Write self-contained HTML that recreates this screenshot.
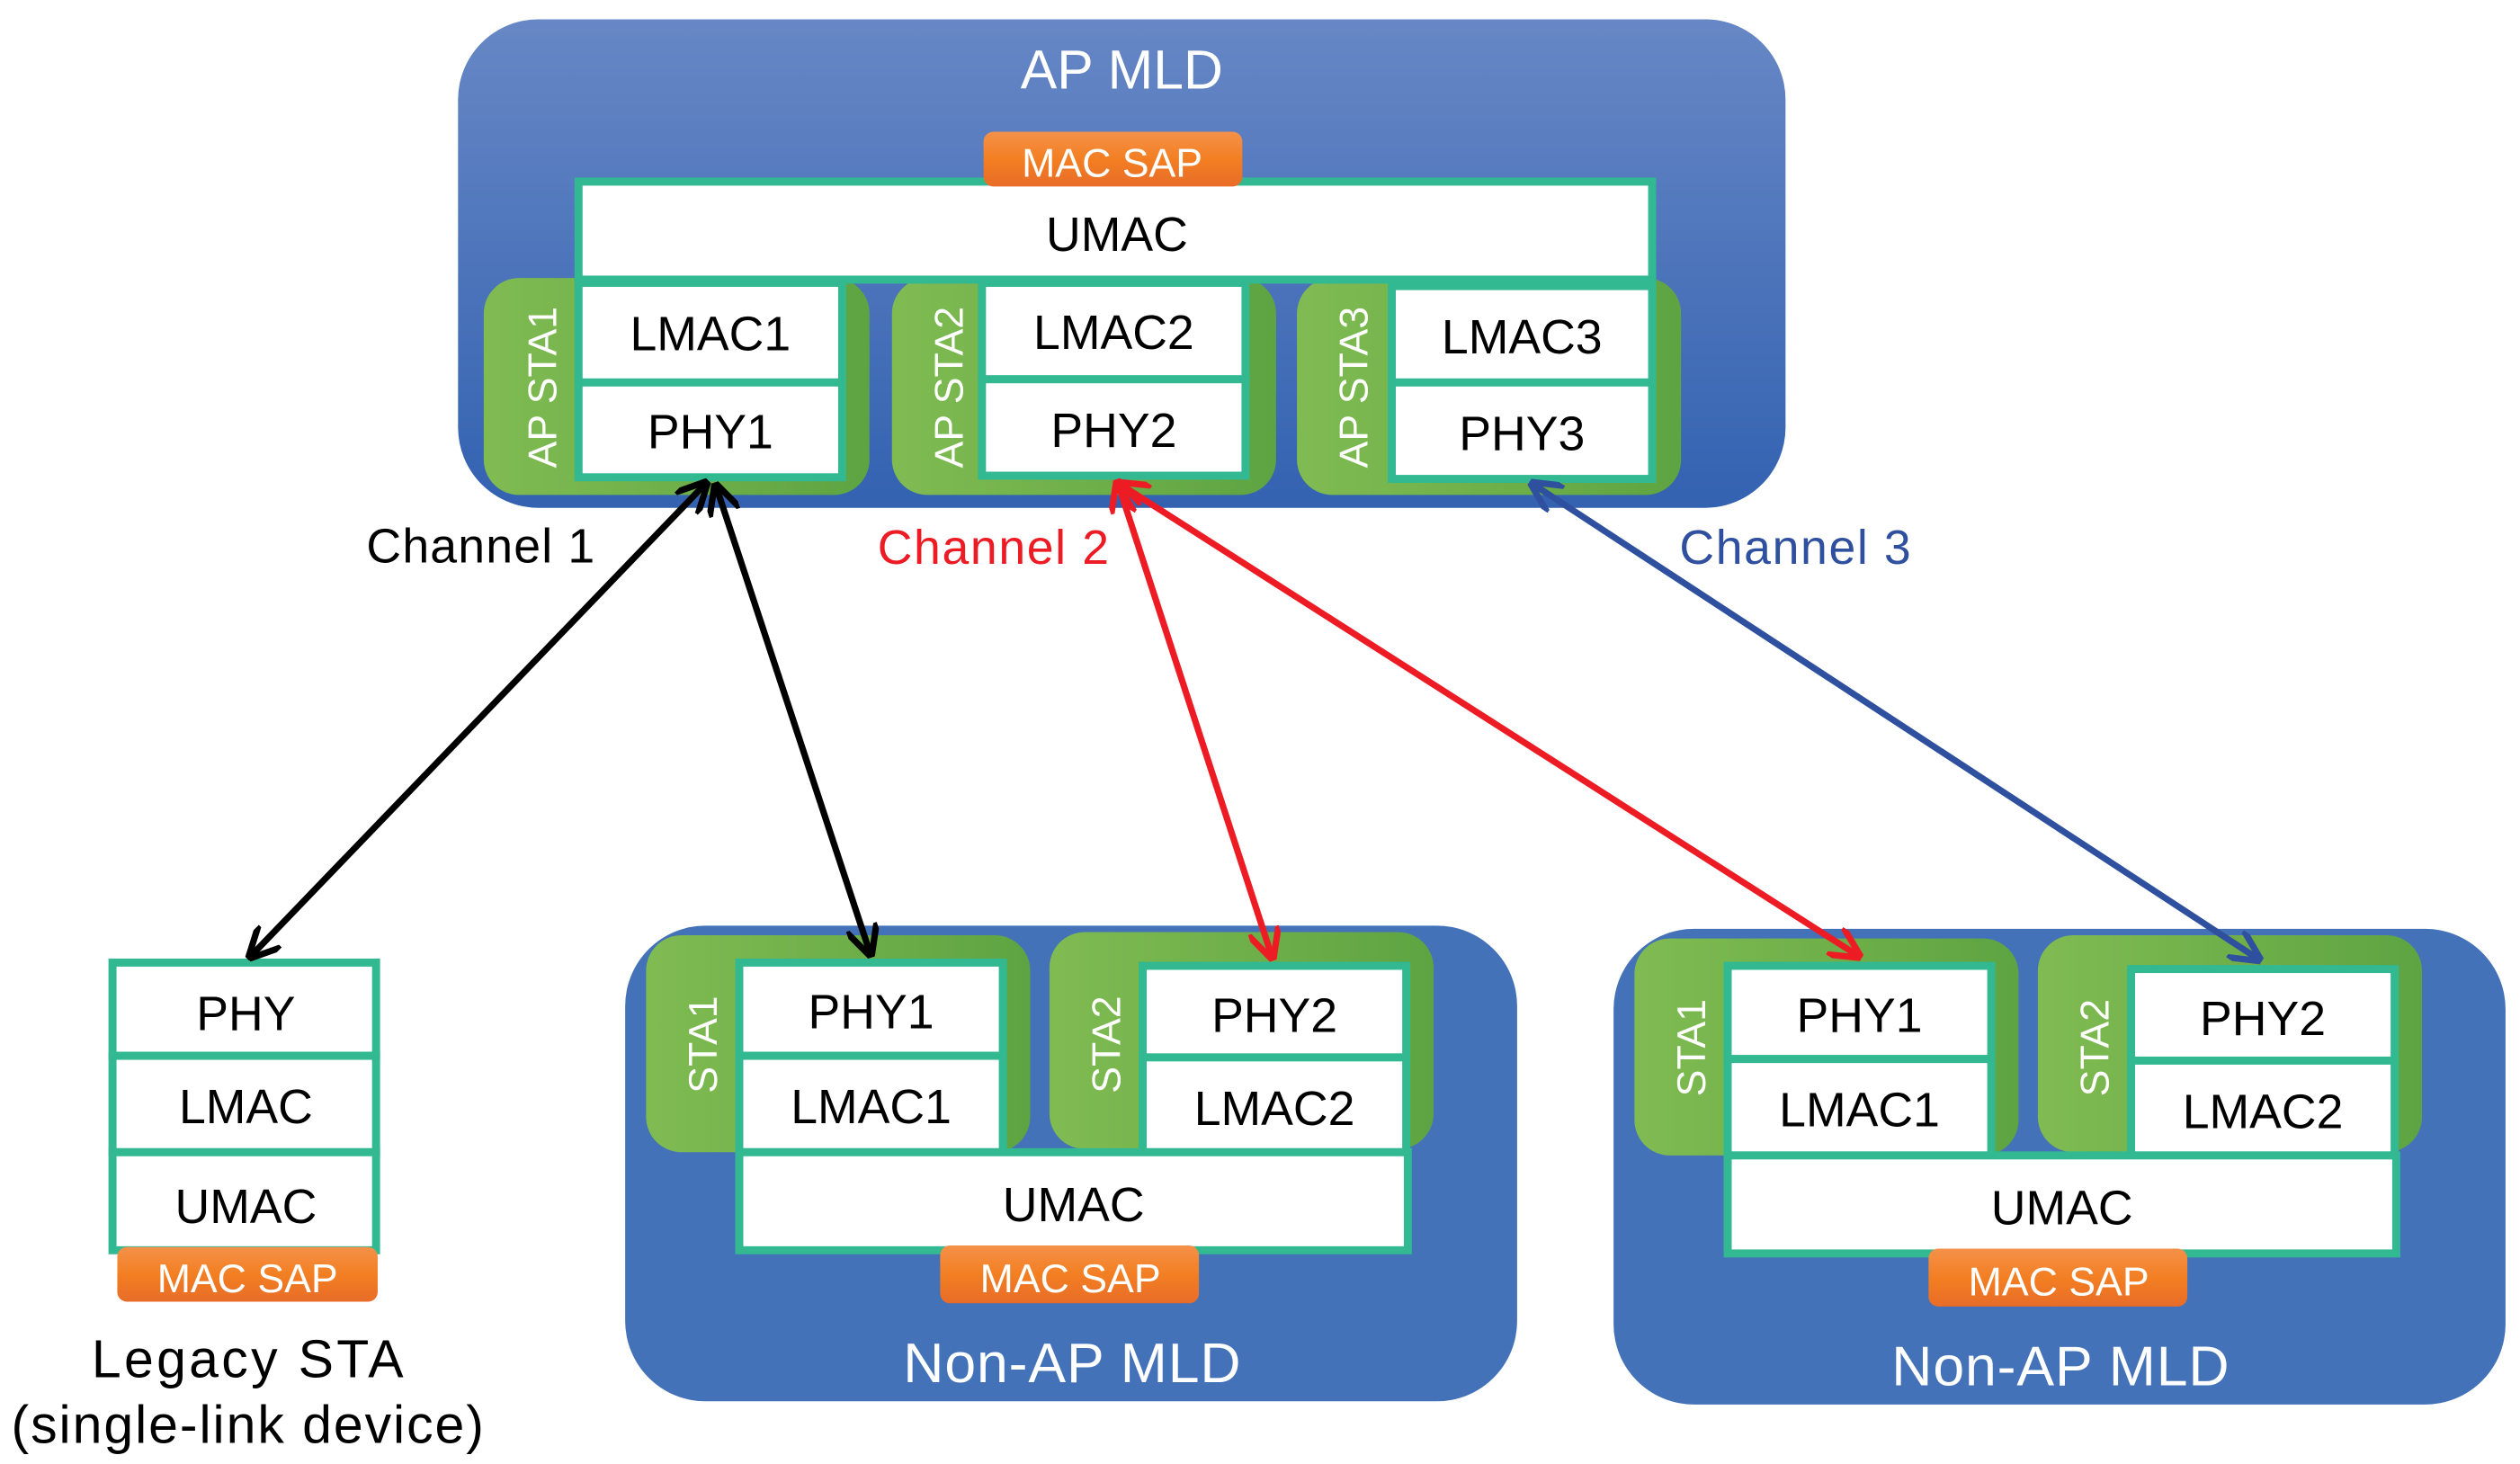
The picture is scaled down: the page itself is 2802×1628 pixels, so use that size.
<!DOCTYPE html>
<html><head><meta charset="utf-8"><style>html,body{margin:0;padding:0;background:#fff}svg{display:block}text{font-family:"Liberation Sans",sans-serif}</style></head>
<body>
<svg width="2802" height="1628" viewBox="0 0 1568 911" xmlns="http://www.w3.org/2000/svg">
<defs>
<linearGradient id="gb" x1="0" y1="0" x2="0" y2="1"><stop offset="0" stop-color="#6787c5"/><stop offset="1" stop-color="#3362b1"/></linearGradient>
<linearGradient id="gg" x1="0" y1="0" x2="1" y2="0"><stop offset="0" stop-color="#80bb52"/><stop offset="1" stop-color="#5ea442"/></linearGradient>
<linearGradient id="go" x1="0" y1="0" x2="0" y2="1"><stop offset="0" stop-color="#f4914a"/><stop offset="0.5" stop-color="#f37f22"/><stop offset="1" stop-color="#e86c28"/></linearGradient>
<marker id="ak" viewBox="0 0 10 10" refX="8" refY="5" markerWidth="5" markerHeight="5" orient="auto-start-reverse" markerUnits="strokeWidth"><path d="M0,0 L10,5 L0,10" fill="none" stroke="#000" stroke-width="2"/></marker>
<marker id="ar" viewBox="0 0 10 10" refX="8" refY="5" markerWidth="5" markerHeight="5" orient="auto-start-reverse" markerUnits="strokeWidth"><path d="M0,0 L10,5 L0,10" fill="none" stroke="#ed1c24" stroke-width="2"/></marker>
<marker id="ab" viewBox="0 0 10 10" refX="8" refY="5" markerWidth="5" markerHeight="5" orient="auto-start-reverse" markerUnits="strokeWidth"><path d="M0,0 L10,5 L0,10" fill="none" stroke="#2f4f9f" stroke-width="2"/></marker>
</defs>
<!-- AP MLD -->
<rect x="285" y="12" width="826" height="304" rx="50" fill="url(#gb)"/>
<text x="698" y="55" font-size="34" fill="#fff" text-anchor="middle">AP MLD</text>
<rect x="301" y="173" width="240" height="135" rx="22" fill="url(#gg)"/>
<rect x="555" y="173" width="239" height="135" rx="22" fill="url(#gg)"/>
<rect x="807" y="173" width="239" height="135" rx="22" fill="url(#gg)"/>
<g fill="#fff" stroke="#32b991" stroke-width="5">
<rect x="360" y="113" width="668" height="61"/>
<rect x="360" y="176" width="164" height="62"/><rect x="360" y="238" width="164" height="59"/>
<rect x="611" y="176" width="164" height="60"/><rect x="611" y="236" width="164" height="60"/>
<rect x="866" y="178" width="162" height="60"/><rect x="866" y="238" width="162" height="60"/>
</g>
<rect x="612" y="82" width="161" height="34" rx="6" fill="url(#go)"/>
<text x="692" y="110" font-size="25" fill="#fff" text-anchor="middle">MAC SAP</text>
<g font-size="30" text-anchor="middle" fill="#000">
<text x="695" y="156">UMAC</text>
<text x="442" y="218">LMAC1</text><text x="442" y="279">PHY1</text>
<text x="693" y="217">LMAC2</text><text x="693" y="278">PHY2</text>
<text x="947" y="220">LMAC3</text><text x="947" y="280">PHY3</text>
</g>
<g font-size="25" fill="#fff" text-anchor="middle">
<text transform="translate(346,241) rotate(-90)">AP STA1</text>
<text transform="translate(599,241) rotate(-90)">AP STA2</text>
<text transform="translate(851,241) rotate(-90)">AP STA3</text>
</g>
<!-- channel labels -->
<text x="228" y="350" font-size="30" fill="#000" textLength="142">Channel 1</text>
<text x="546" y="351" font-size="30" fill="#ed1c24" textLength="144">Channel 2</text>
<text x="1045" y="351" font-size="30" fill="#2f4f9f" textLength="144">Channel 3</text>
<!-- Legacy STA -->
<g fill="#fff" stroke="#32b991" stroke-width="5">
<rect x="70" y="599" width="164" height="58"/><rect x="70" y="657" width="164" height="60"/><rect x="70" y="717" width="164" height="61"/>
</g>
<rect x="73" y="776" width="162" height="34" rx="6" fill="url(#go)"/>
<text x="154" y="804" font-size="25" fill="#fff" text-anchor="middle">MAC SAP</text>
<g font-size="30" text-anchor="middle" fill="#000">
<text x="153" y="641">PHY</text><text x="153" y="699">LMAC</text><text x="153" y="761">UMAC</text>
</g>
<text x="154" y="857" font-size="33" text-anchor="middle" textLength="194">Legacy STA</text>
<text x="154" y="898" font-size="33" text-anchor="middle" textLength="294">(single-link device)</text>
<!-- Non-AP MLD 1 -->
<g id="nm">
<rect x="389" y="576" width="555" height="296" rx="50" fill="#4472b8"/>
<rect x="402" y="582" width="239" height="135" rx="22" fill="url(#gg)"/>
<rect x="653" y="580" width="239" height="135" rx="22" fill="url(#gg)"/>
<g fill="#fff" stroke="#32b991" stroke-width="5">
<rect x="460" y="599" width="164" height="58"/><rect x="460" y="657" width="164" height="60"/>
<rect x="711" y="601" width="164" height="57"/><rect x="711" y="658" width="164" height="59"/>
<rect x="460" y="717" width="416" height="61"/>
</g>
<rect x="585" y="775" width="161" height="36" rx="6" fill="url(#go)"/>
<text x="666" y="804" font-size="25" fill="#fff" text-anchor="middle">MAC SAP</text>
<g font-size="30" text-anchor="middle" fill="#000">
<text x="542" y="640">PHY1</text><text x="542" y="699">LMAC1</text>
<text x="793" y="642">PHY2</text><text x="793" y="700">LMAC2</text>
<text x="668" y="760">UMAC</text>
</g>
<g font-size="25" fill="#fff" text-anchor="middle">
<text transform="translate(446,650) rotate(-90)">STA1</text>
<text transform="translate(697,650) rotate(-90)">STA2</text>
</g>
<text x="667" y="860" font-size="35" fill="#fff" text-anchor="middle" textLength="210">Non-AP MLD</text>
</g>
<use href="#nm" transform="translate(615,2)"/>
<!-- arrows -->
<g stroke-width="4" fill="none">
<line x1="438" y1="302" x2="157" y2="594" stroke="#000" marker-start="url(#ak)" marker-end="url(#ak)"/>
<line x1="446" y1="304" x2="541" y2="592" stroke="#000" marker-start="url(#ak)" marker-end="url(#ak)"/>
<line x1="696" y1="302" x2="791" y2="594" stroke="#ed1c24" marker-start="url(#ar)" marker-end="url(#ar)"/>
<line x1="698" y1="302" x2="1155" y2="594" stroke="#ed1c24" marker-start="url(#ar)" marker-end="url(#ar)"/>
<line x1="955" y1="302" x2="1404" y2="596" stroke="#2f4f9f" marker-start="url(#ab)" marker-end="url(#ab)"/>
</g>
</svg>
</body></html>
